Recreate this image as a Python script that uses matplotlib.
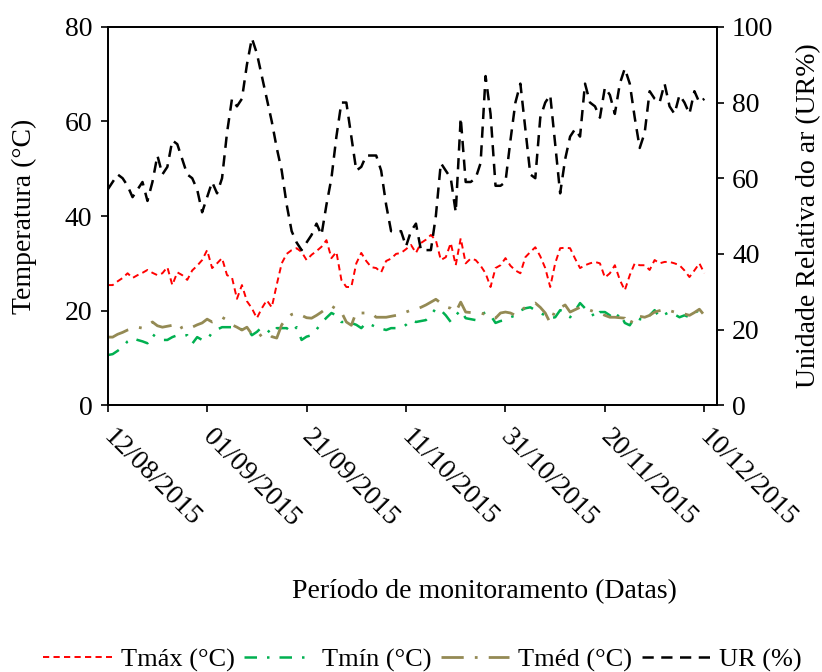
import numpy as np
import pandas as pd
import matplotlib
matplotlib.use('Agg')
import matplotlib.pyplot as plt
import matplotlib.transforms as mtransforms

plt.rcParams['font.family'] = ['Liberation Serif', 'DejaVu Serif']

# Daily data, 12/08/2015 .. 10/12/2015
dates = pd.date_range('2015-08-12', '2015-12-10', freq='D')

tmax = [25.4, 25.4, 26.2, 26.9, 27.9, 26.9, 27.5, 28.0, 28.6, 28.0,
        27.5, 27.9, 29.2, 25.4, 28.1, 27.5, 26.5, 28.5, 29.5, 30.7,
        32.8, 29.0, 30.0, 31.1, 27.5, 27.0, 22.5, 25.4, 22.0, 20.5,
        18.4, 20.5, 22.2, 20.7, 25.5, 30.0, 32.0, 32.8, 33.2, 32.4,
        30.7, 31.8, 32.6, 33.5, 34.9, 31.1, 32.4, 26.5, 25.0, 25.0,
        30.0, 32.2, 30.5, 29.2, 29.0, 28.1, 30.5, 31.0, 32.0, 32.2,
        33.0, 33.9, 32.2, 34.3, 35.0, 36.0, 34.9, 30.7, 31.3, 34.3,
        29.6, 35.3, 30.0, 31.0, 30.7, 29.5, 27.9, 25.0, 29.0, 29.6,
        31.1, 29.5, 28.5, 27.9, 31.3, 32.4, 33.4, 31.5, 29.0, 25.0,
        30.0, 33.2, 33.3, 33.2, 31.0, 29.0, 29.6, 30.0, 30.3, 30.0,
        27.0, 27.9, 29.6, 26.5, 24.3, 27.5, 30.0, 29.6, 29.6, 28.6,
        30.7, 30.0, 30.3, 30.3, 30.0, 29.6, 28.5, 27.1, 28.5, 30.0,
        27.9]

tmin = [10.6, 10.8, 11.5, 12.3, 13.5, 14.2, 13.8, 13.5, 13.1, 15.0,
        14.2, 13.8, 13.8, 14.4, 14.8, 14.8, 14.8, 13.0, 14.4, 13.8,
        13.8, 15.4, 16.0, 16.5, 16.5, 16.5, 16.5, 16.0, 16.3, 14.8,
        15.5, 16.5, 16.0, 15.0, 16.3, 16.3, 16.3, 15.4, 16.5, 13.8,
        14.5, 14.8, 16.0, 17.4, 18.5, 19.5, 19.0, 17.6, 17.6, 17.4,
        17.0, 16.3, 17.4, 17.0, 16.5, 16.2, 15.9, 16.3, 16.3, 16.3,
        17.0, 18.0, 17.6, 17.8, 18.0, 19.0, 20.5, 20.1, 19.0, 17.6,
        19.0, 20.1, 18.4, 18.2, 18.0, 19.0, 19.7, 19.0, 17.4, 17.8,
        18.0, 18.6, 19.0, 20.0, 20.5, 20.7, 20.1, 19.5, 19.0, 18.4,
        18.6, 20.1, 19.7, 18.6, 20.0, 21.6, 20.5, 20.1, 18.4, 19.7,
        19.7, 19.0, 18.0, 19.5, 17.4, 16.9, 18.6, 18.2, 18.0, 19.0,
        20.1, 18.6, 19.2, 19.7, 19.2, 18.6, 19.0, 18.6, 19.5, 20.1,
        19.0]

tmed = [14.4, 14.4, 15.0, 15.4, 15.9, 16.2, 16.5, 16.3, 16.8, 17.6,
        16.8, 16.5, 16.7, 16.9, 15.9, 16.5, 16.9, 16.5, 17.0, 17.4,
        18.2, 17.6, 18.0, 18.6, 18.0, 17.0, 16.5, 15.9, 16.5, 15.0,
        14.2, 15.0, 15.4, 14.5, 14.2, 17.0, 18.4, 19.2, 19.5, 19.0,
        18.5, 18.4, 19.0, 19.7, 20.5, 21.0, 20.3, 19.7, 17.6, 16.9,
        19.7, 19.5, 19.5, 19.5, 18.6, 18.6, 18.6, 18.8, 19.0, 19.2,
        19.7, 20.1, 20.3, 20.7, 21.2, 21.8, 22.4, 21.6, 20.8, 20.5,
        19.7, 21.8, 19.7, 19.6, 19.5, 19.5, 19.2, 18.6, 18.4, 19.5,
        19.7, 19.5, 19.0, 20.0, 20.7, 21.2, 21.6, 20.7, 19.5, 17.4,
        20.1, 20.6, 21.2, 19.7, 20.2, 20.7, 20.3, 20.1, 19.7, 19.5,
        19.0, 18.6, 18.6, 18.5, 18.4, 16.9, 19.0, 18.8, 18.6, 19.0,
        19.7, 20.0, 20.3, 20.0, 19.7, 19.5, 19.3, 19.0, 19.6, 20.3,
        19.0]

ur = [57, 59, 61, 60, 58, 55, 57, 59, 54, 59,
      66, 61, 63, 70, 69, 65, 61, 60, 57, 51,
      55, 59, 56, 60, 72, 81, 79, 81, 90, 97,
      93, 87, 81, 75, 68, 62, 53, 46, 43, 41,
      43, 45, 48, 45, 53, 60, 71, 80, 80, 71,
      62, 63, 66, 66, 66, 62, 53, 46, 46, 46,
      42, 46, 48, 41, 41, 41, 50, 64, 62, 60,
      51, 76, 59, 59, 60, 64, 87, 77, 58, 58,
      59, 70, 80, 85, 73, 61, 60, 76, 80, 82,
      69, 56, 65, 71, 73, 71, 85, 80, 79, 76,
      84, 82, 77, 85, 89, 85, 76, 68, 72, 83,
      81, 80, 85, 79, 77, 82, 80, 77, 83, 80,
      81]

tick_dates = pd.to_datetime(['2015-08-12', '2015-09-01', '2015-09-21', '2015-10-11',
                             '2015-10-31', '2015-11-20', '2015-12-10'])

fig = plt.figure(figsize=(8.22, 6.72), dpi=100)
ax = fig.add_axes([0.131, 0.397, 0.741, 0.563])
ax2 = ax.twinx()

fs = 20
l1, = ax.plot(dates, tmax, color='#FF0000', lw=1.4, dashes=(3.2, 2.2), label='Tmáx (°C)')
l2, = ax.plot(dates, tmin, color='#00B050', lw=1.8, dashes=(5, 4, 1, 4), label='Tmín (°C)')
l3, = ax.plot(dates, tmed, color='#948A54', lw=2.0, dashes=(8, 4, 1, 4), label='Tméd (°C)')
l4, = ax2.plot(dates, ur, color='black', lw=1.8, dashes=(4.5, 3), label='UR (%)')

x0 = dates[0]
ax.set_xlim(x0, x0 + pd.Timedelta(days=122.5))
ax.set_ylim(0, 80)
ax2.set_ylim(0, 100)
ax.set_yticks([0, 20, 40, 60, 80])
ax2.set_yticks([0, 20, 40, 60, 80, 100])

# date labels drawn as rotated texts below each tick
ax.set_xticks(tick_dates)
ax.set_xticklabels([])
offset = mtransforms.ScaledTranslation(8 / 100, -19.5 / 100, fig.dpi_scale_trans)
for d in tick_dates:
    ax.text(d, 0, d.strftime('%d/%m/%Y'), transform=ax.get_xaxis_transform() + offset,
            rotation=-45, ha='left', va='top', rotation_mode='anchor', fontsize=fs)

ax.tick_params(axis='x', direction='out', length=5, width=1.2)
ax.tick_params(axis='y', direction='out', length=5, width=1.2, labelsize=fs, pad=6)
ax2.tick_params(axis='y', direction='out', length=5, width=1.2, labelsize=fs, pad=6)

for a in (ax, ax2):
    for s in a.spines.values():
        s.set_linewidth(1.3)

ax.set_ylabel('Temperatura (°C)', fontsize=fs, labelpad=20)
ax2.set_ylabel('Unidade Relativa do ar (UR%)', fontsize=fs, labelpad=16)
fig.text(0.589, 0.12, 'Período de monitoramento (Datas)', ha='center', va='center', fontsize=fs)

fig.legend(handles=[l1, l2, l3, l4], loc='center', bbox_to_anchor=(0.514, 0.018),
           ncol=4, frameon=False, fontsize=19, handlelength=2.6, handletextpad=0.35,
           columnspacing=0.35)

fig.savefig('out.png', dpi=100)
